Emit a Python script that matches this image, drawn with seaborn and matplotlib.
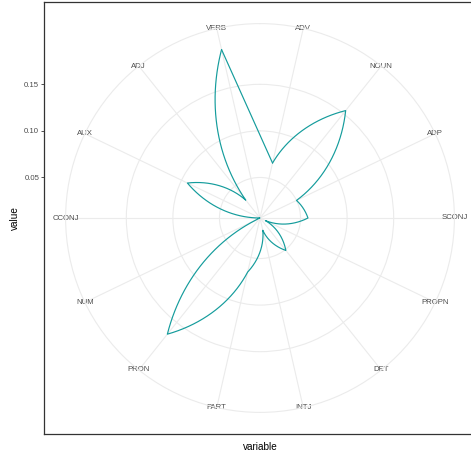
import numpy as np
import matplotlib
matplotlib.use("Agg")
import matplotlib.pyplot as plt
import seaborn as sns

# part-of-speech shares, in the order they go round the circle (clockwise from top)
categories = ["ADV", "NOUN", "ADP", "SCONJ", "PROPN", "DET", "INTJ",
              "PART", "PRON", "NUM", "CCONJ", "AUX", "ADJ", "VERB"]
values = [0.067, 0.154, 0.050, 0.058, 0.013, 0.051, 0.020,
          0.066, 0.166, 0.008, 0.0065, 0.093, 0.031, 0.192]
r_ticks = [0.05, 0.10, 0.15]
r_tick_labels = ["0.05", "0.10", "0.15"]

LINE_COLOR = "#149c9c"
GRID_COLOR = "#ebebeb"

sns.set_theme(style="white")
plt.rcParams["font.family"] = ["Liberation Sans", "DejaVu Sans"]

n = len(categories)
theta = (np.arange(n) + 0.5) * 2 * np.pi / n   # discrete theta scale, half-step offset
vmin, vmax = min(values), max(values)
r_outer = vmin + (vmax - vmin) * 0.45 / 0.4

W, H = 471, 454
fig = plt.figure(figsize=(W / 100, H / 100), dpi=100)

# square panel with border and the radial value axis on its left
px_l, px_t, side = 44, 2, 432
frame = fig.add_axes([px_l / W, (H - px_t - side) / H, side / W, side / H])
half = 0.5 * (vmax - vmin) / 0.4
frame.set_ylim(vmin - half, vmin + half)
frame.set_xlim(0, 1)
frame.set_xticks([])
frame.set_yticks(r_ticks)
frame.set_yticklabels(r_tick_labels)
frame.tick_params(axis="y", left=True, length=2.0, width=0.6, color="#333333",
                  labelcolor="#4d4d4d", labelsize=5.6, pad=1.5)
for sp in frame.spines.values():
    sp.set_color("#333333")
    sp.set_linewidth(0.9)
frame.set_xlabel("variable", fontsize=7.2, color="black", labelpad=5.5)
frame.set_ylabel("value", fontsize=7.2, color="black", labelpad=3)
frame.set_facecolor("white")

# polar panel, same centre, outer circle at 0.45 of panel side
cx, cy = px_l + side / 2, px_t + side / 2
rad = 0.45 * side
ax = fig.add_axes([(cx - rad) / W, (H - cy - rad) / H, 2 * rad / W, 2 * rad / H],
                  projection="polar")
ax.set_facecolor("none")
ax.set_theta_zero_location("N")
ax.set_theta_direction(-1)
ax.set_ylim(vmin, r_outer)
ax.set_yticks(r_ticks)
ax.set_yticklabels([])
ax.set_xticks(theta)
ax.set_xticklabels(categories)
ax.tick_params(axis="x", length=0, pad=-7, labelsize=5.6, labelcolor="#4d4d4d")
ax.grid(True, color=GRID_COLOR, linewidth=0.8)
ax.spines["polar"].set_color(GRID_COLOR)
ax.spines["polar"].set_linewidth(0.8)
ax.set_axisbelow(True)

# path through the categories, interpolated in (theta, r) like coord_polar
sns.lineplot(x=theta, y=values, ax=ax, sort=False, estimator=None,
             color=LINE_COLOR, linewidth=0.85)
path_line = ax.lines[-1]
path_line.get_path()._interpolation_steps = 80
# polygon closing edge: straight
ax.plot([theta[-1], theta[0]], [values[-1], values[0]],
        color=LINE_COLOR, linewidth=0.85)
ax.set_xlabel("")
ax.set_ylabel("")
ax.set_ylim(vmin, r_outer)

fig.savefig("out.png", dpi=100)
